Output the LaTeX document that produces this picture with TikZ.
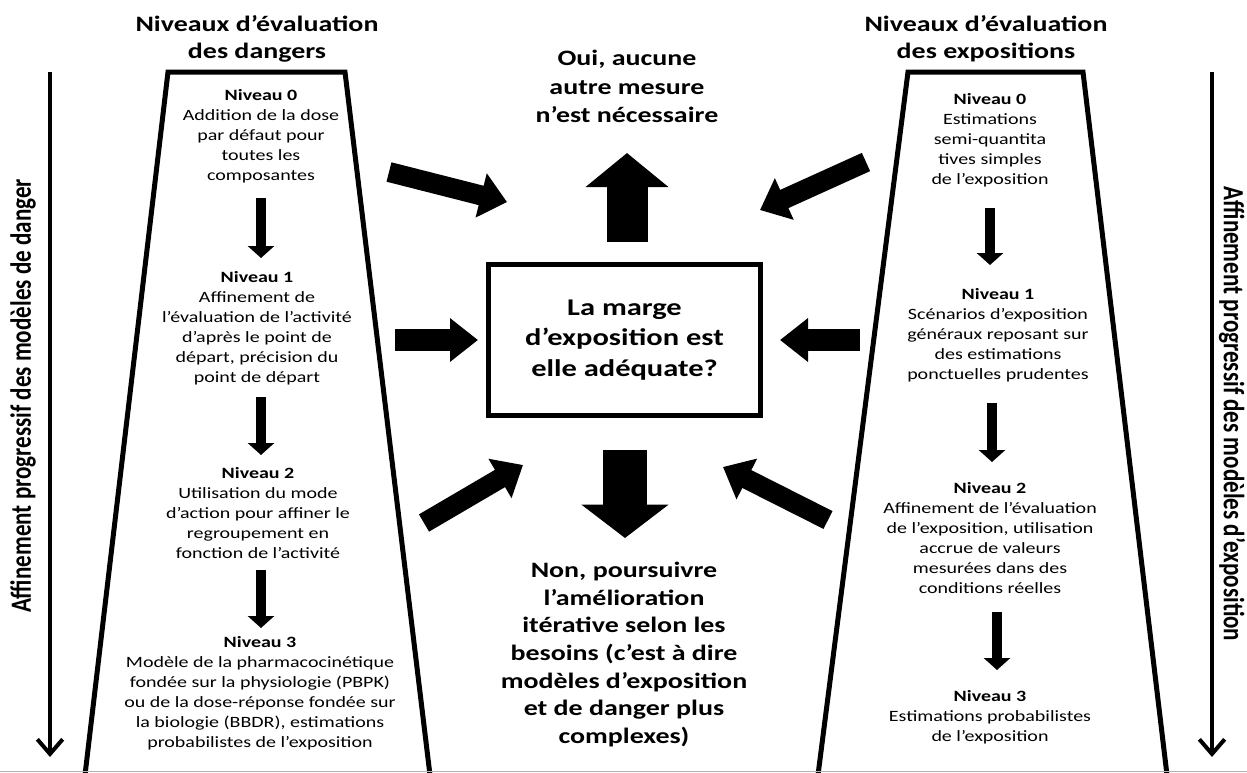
\documentclass[tikz,border=0pt]{standalone}
\usepackage{fontspec}
\setmainfont{Carlito}[FakeStretch=1.27]
\newfontfamily\plainfont{Carlito}
\usetikzlibrary{arrows.meta}
\tikzset{
  trap/.style={draw, line width=3.75pt, line join=miter},
  small/.style={font=\fontsize{11.8}{15}\selectfont, align=center, inner sep=0pt},
  title/.style={font=\bfseries\fontsize{16.5}{20.25}\selectfont, align=center, inner sep=0pt},
  big/.style={font=\bfseries\fontsize{16.5}{20.8}\selectfont, align=center, inner sep=0pt},
  sidelabel/.style={font=\plainfont\bfseries\fontsize{17.3}{20}\selectfont, inner sep=0pt},
  qbox/.style={draw, line width=3.75pt, minimum width=204pt, minimum height=113pt, align=center,
    font=\bfseries\fontsize{18}{22.8}\selectfont},
  diagarrow/.style={line width=15pt, -{Triangle[length=20pt,width=33pt]}},
  sidearrow/.style={line width=16.5pt, -{Triangle[length=21pt,width=31.5pt]}},
  uparrow/.style={line width=30.75pt, -{Triangle[length=25.5pt,width=60.75pt]}},
  downarrow/.style={line width=33pt, -{Triangle[length=25pt,width=64pt]}},
  smallarrow/.style={line width=7.5pt, -{Triangle[length=9pt,width=19.5pt]}},
  axisarrow/.style={line width=3pt, -{Straight Barb[length=11pt,width=19pt]}},
}
\begin{document}
\begin{tikzpicture}[x=0.75pt,y=-0.75pt]
\useasboundingbox (0,0) rectangle (1247,772);
\fill[white] (0,0) rectangle (1247,772);

% trapezoids
\draw[trap] (85,775) -- (168,72) -- (345,72) -- (430,775);
\draw[trap] (818,775) -- (908,72) -- (1083,72) -- (1167,775);
\draw[gray!60, line width=0.75pt] (0,771) -- (1247,771);

% titles
\node[title] (tl) at (257,38.5) {Niveaux d’évaluation\\des dangers};
\node[title] (tr) at (986,38.5) {Niveaux d’évaluation\\des expositions};

% axis arrows and labels
\coordinate (axlT) at (50,72);
\coordinate (axlB) at (50,757);
\coordinate (axrT) at (1212,72);
\coordinate (axrB) at (1212,757);
\draw[axisarrow] (axlT) -- (axlB);
\draw[axisarrow] (axrT) -- (axrB);
\node[sidelabel, xscale=1.27, rotate=90] (labl) at (23,396) {Affinement progressif des modèles de danger};
\node[sidelabel, xscale=1.27, rotate=-90] (labr) at (1232,414) {Affinement progressif des modèles d’exposition};

% left column texts
\node[small] (L0) at (261,136.5) {{\bfseries Niveau 0}\\Addition de la dose\\par défaut pour\\toutes les\\composantes};
\node[small] (L1) at (257,328) {{\bfseries Niveau 1}\\Affinement de\\l’évaluation de l’activité\\d’après le point de\\départ, précision du\\point de départ};
\node[small] (L2) at (258,513) {{\bfseries Niveau 2}\\Utilisation du mode\\d’action pour affiner le\\regroupement en\\fonction de l’activité};
\node[small] (L3) at (260,693) {{\bfseries Niveau 3}\\Modèle de la pharmacocinétique\\fondée sur la physiologie (PBPK)\\ou de la dose-réponse fondée sur\\la biologie (BBDR), estimations\\probabilistes de l’exposition};

% right column texts
\node[small] (R0) at (990,140) {{\bfseries Niveau 0}\\Estimations\\semi-quantita\\tives simples\\de l’exposition};
\node[small] (R1) at (998,335) {{\bfseries Niveau 1}\\Scénarios d’exposition\\généraux reposant sur\\des estimations\\ponctuelles prudentes};
\node[small] (R2) at (990,538) {{\bfseries Niveau 2}\\Affinement de l’évaluation\\de l’exposition, utilisation\\accrue de valeurs\\mesurées dans des\\conditions réelles};
\node[small] (R3) at (990,717) {{\bfseries Niveau 3}\\Estimations probabilistes\\de l’exposition};

% small arrows
\coordinate (la0) at (261,198); \coordinate (la1) at (261,258);
\coordinate (lb0) at (261,397); \coordinate (lb1) at (261,455);
\coordinate (lc0) at (261,570); \coordinate (lc1) at (261,628);
\coordinate (ra0) at (990,208); \coordinate (ra1) at (990,265);
\coordinate (rb0) at (992,403); \coordinate (rb1) at (992,462);
\coordinate (rc0) at (997,612); \coordinate (rc1) at (997,670);
\draw[smallarrow] (la0) -- (la1);
\draw[smallarrow] (lb0) -- (lb1);
\draw[smallarrow] (lc0) -- (lc1);
\draw[smallarrow] (ra0) -- (ra1);
\draw[smallarrow] (rb0) -- (rb1);
\draw[smallarrow] (rc0) -- (rc1);

% center
\node[qbox] (q) at (624.5,340) {La marge\\d’exposition est\\elle adéquate?};
\node[big, font=\bfseries\fontsize{16.5}{21.4}\selectfont] (oui) at (627,86.5) {Oui, aucune\\autre mesure\\n’est nécessaire};
\node[big] (non) at (624,654.5) {Non, poursuivre\\l’amélioration\\itérative selon les\\besoins (c’est à dire\\modèles d’exposition\\et de danger plus\\complexes)};

% block arrows
\coordinate (ulT) at (389,172); \coordinate (ulH) at (507,202);
\coordinate (urT) at (866,162); \coordinate (urH) at (760,210);
\coordinate (llT) at (424,523); \coordinate (llH) at (523,465);
\coordinate (lrT) at (828,520); \coordinate (lrH) at (723,467);
\coordinate (mlT) at (395,340); \coordinate (mlH) at (478,340);
\coordinate (mrT) at (860,340); \coordinate (mrH) at (780,340);
\coordinate (upT) at (627,242); \coordinate (upH) at (627,153);
\coordinate (dnT) at (625,450); \coordinate (dnH) at (625,538);
\draw[diagarrow] (ulT) -- (ulH);
\draw[diagarrow] (urT) -- (urH);
\draw[diagarrow] (llT) -- (llH);
\draw[diagarrow] (lrT) -- (lrH);
\draw[sidearrow] (mlT) -- (mlH);
\draw[sidearrow] (mrT) -- (mrH);
\draw[uparrow] (upT) -- (upH);
\draw[downarrow] (dnT) -- (dnH);
\end{tikzpicture}
\end{document}
